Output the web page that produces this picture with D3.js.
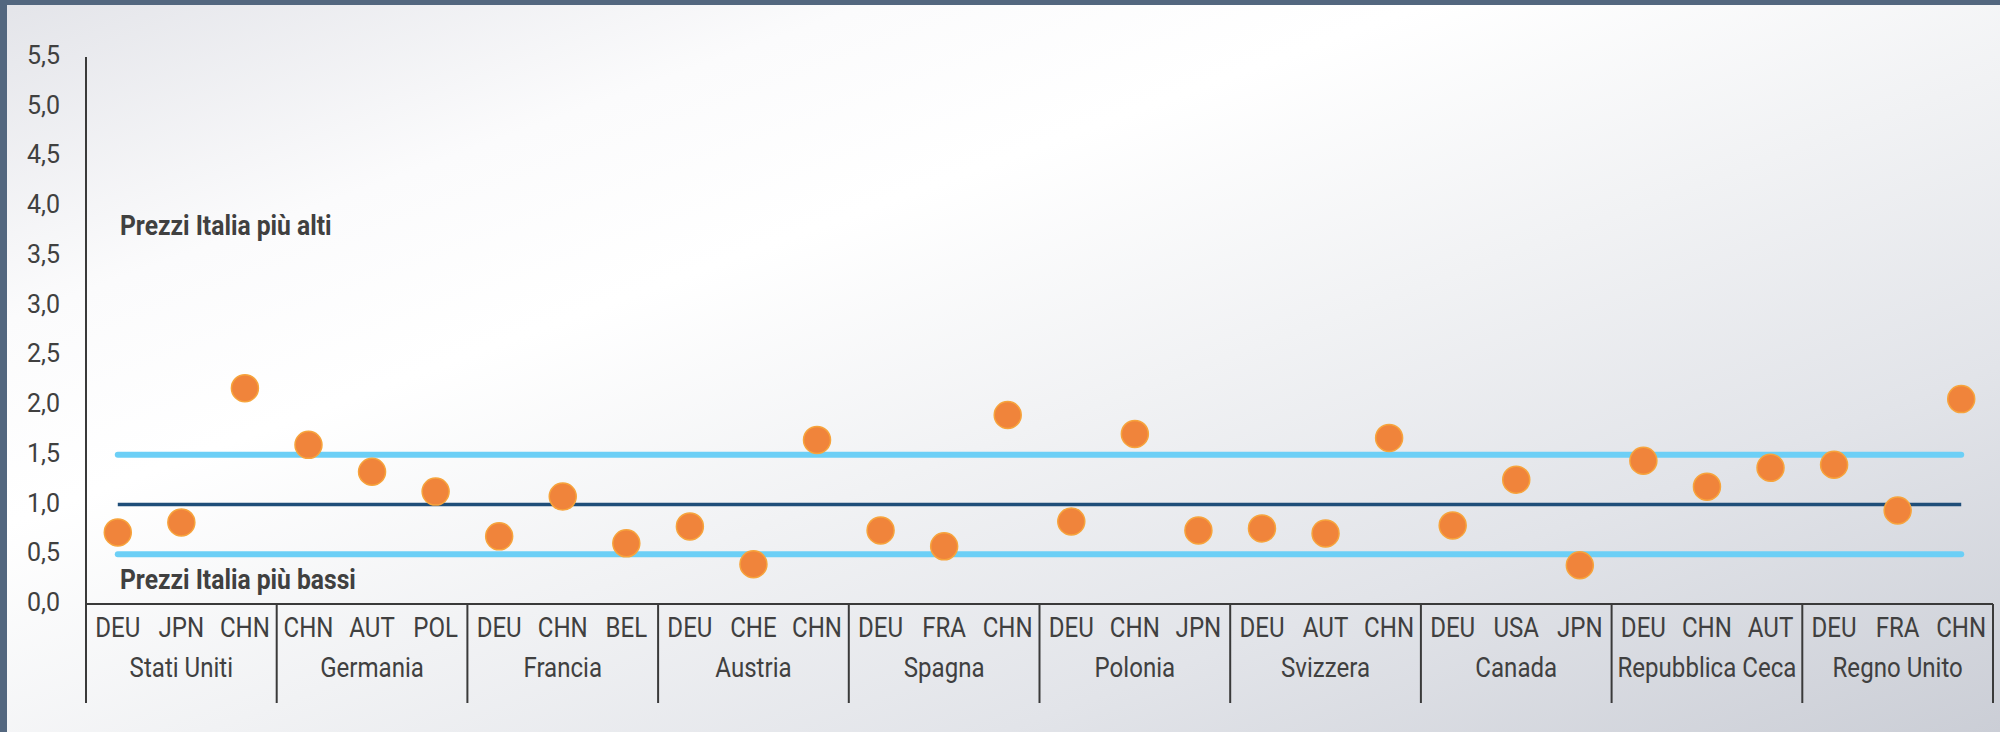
<!DOCTYPE html>
<html>
<head>
<meta charset="utf-8">
<script src="https://cdn.jsdelivr.net/npm/d3@7"></script>
<style>
  html, body { margin: 0; padding: 0; background: #ffffff; }
  svg { display: block; }
  text { font-family: Roboto, "Liberation Sans", sans-serif; fill: #404040; }
</style>
</head>
<body>
<svg id="chart" width="2000" height="732"></svg>
<script>
// ---------- data ----------
const countries = ["Stati Uniti", "Germania", "Francia", "Austria", "Spagna",
                   "Polonia", "Svizzera", "Canada", "Repubblica Ceca", "Regno Unito"];
const partners = [
  ["DEU", "JPN", "CHN"],
  ["CHN", "AUT", "POL"],
  ["DEU", "CHN", "BEL"],
  ["DEU", "CHE", "CHN"],
  ["DEU", "FRA", "CHN"],
  ["DEU", "CHN", "JPN"],
  ["DEU", "AUT", "CHN"],
  ["DEU", "USA", "JPN"],
  ["DEU", "CHN", "AUT"],
  ["DEU", "FRA", "CHN"]
];
const values = [
  [0.72, 0.82, 2.17],
  [1.60, 1.33, 1.13],
  [0.68, 1.08, 0.61],
  [0.78, 0.40, 1.65],
  [0.74, 0.58, 1.90],
  [0.83, 1.71, 0.74],
  [0.76, 0.71, 1.67],
  [0.79, 1.25, 0.39],
  [1.44, 1.18, 1.37],
  [1.40, 0.94, 2.06]
];
const refLines = [
  { value: 1.5, color: "#6ccff6", width: 6, cap: "round" },
  { value: 0.5, color: "#6ccff6", width: 6, cap: "round" },
  { value: 1.0, color: "#1f4e79", width: 3.5, cap: "butt" }
];
const yTicks = [0, 0.5, 1, 1.5, 2, 2.5, 3, 3.5, 4, 4.5, 5, 5.5];
const noteHigh = "Prezzi Italia più alti";
const noteLow = "Prezzi Italia più bassi";

// ---------- derived ----------
const items = [];
countries.forEach((c, gi) => partners[gi].forEach((p, pi) => {
  items.push({ key: gi + "|" + p + "|" + pi, group: gi, partner: p, value: values[gi][pi] });
}));

const svg = d3.select("#chart");
const W = 2000, H = 732;

// background gradient
const defs = svg.append("defs");
const grad = defs.append("linearGradient").attr("id", "bg")
  .attr("x1", 0).attr("y1", 0).attr("x2", 1).attr("y2", 1);
[[0, "#e3e4e9"], [0.22, "#fbfbfc"], [0.36, "#ffffff"], [0.55, "#f1f2f4"],
 [0.75, "#e2e4e9"], [1, "#cbced6"]].forEach(([o, c]) =>
  grad.append("stop").attr("offset", o).attr("stop-color", c));

svg.append("rect").attr("width", W).attr("height", H).attr("fill", "url(#bg)");
svg.append("rect").attr("x", 0).attr("y", 0).attr("width", W).attr("height", 5).attr("fill", "#53677f");
svg.append("rect").attr("x", 0).attr("y", 0).attr("width", 7).attr("height", H).attr("fill", "#53677f");

// scales
const x = d3.scaleBand().domain(items.map(d => d.key)).range([86, 1993]).padding(0);
const bw = x.bandwidth();
const y = d3.scaleLinear().domain([0, 5.5]).range([604, 57]);
const cx = d => x(d.key) + bw / 2;

const tableTop = y(0), tableBottom = 703;
const axisColor = "#3a3a3a";

// y axis
const yAxis = d3.axisLeft(y).tickValues(yTicks).tickSize(0).tickPadding(26)
  .tickFormat(d => d3.format(".1f")(d).replace(".", ","));
const gy = svg.append("g").attr("transform", "translate(86,0)").call(yAxis);
gy.select(".domain").remove();
gy.selectAll("text").attr("dy", "0.26em").style("font-size", "25px")
  .style("font-family", "Roboto, sans-serif").attr("fill", "#444");

svg.append("line").attr("x1", 86).attr("x2", 86).attr("y1", y(5.5)).attr("y2", tableBottom)
  .attr("stroke", axisColor).attr("stroke-width", 2);

// category table
svg.append("line").attr("x1", 86).attr("x2", 1993).attr("y1", tableTop).attr("y2", tableTop)
  .attr("stroke", axisColor).attr("stroke-width", 2);

const groupBounds = countries.map((c, gi) => {
  const its = items.filter(d => d.group === gi);
  return { name: c, x0: x(its[0].key), x1: x(its[its.length - 1].key) + bw };
});
svg.selectAll("line.sep").data(groupBounds).join("line").attr("class", "sep")
  .attr("x1", d => d.x1).attr("x2", d => d.x1)
  .attr("y1", tableTop).attr("y2", tableBottom)
  .attr("stroke", axisColor).attr("stroke-width", 2);

svg.selectAll("text.cat").data(items).join("text").attr("class", "cat")
  .attr("transform", d => `translate(${cx(d)},637) scale(0.86,1)`)
  .attr("text-anchor", "middle").style("font-size", "28px")
  .text(d => d.partner);

svg.selectAll("text.grp").data(groupBounds).join("text").attr("class", "grp")
  .attr("transform", d => `translate(${(d.x0 + d.x1) / 2},677) scale(0.86,1)`)
  .attr("text-anchor", "middle").style("font-size", "28px")
  .text(d => d.name);

// reference lines (drawn across category centres)
const first = items[0], last = items[items.length - 1];
svg.selectAll("line.ref").data(refLines).join("line").attr("class", "ref")
  .attr("x1", cx(first)).attr("x2", cx(last))
  .attr("y1", d => y(d.value)).attr("y2", d => y(d.value))
  .attr("stroke", d => d.color).attr("stroke-width", d => d.width)
  .attr("stroke-linecap", d => d.cap);

// notes
svg.append("text").attr("transform", "translate(120,235) scale(0.88,1)")
  .style("font-size", "28px").style("font-weight", "700").attr("fill", "#3a3a3a").text(noteHigh);
svg.append("text").attr("transform", "translate(120,589) scale(0.88,1)")
  .style("font-size", "28px").style("font-weight", "700").attr("fill", "#3a3a3a").text(noteLow);

// points
svg.selectAll("circle.pt").data(items).join("circle").attr("class", "pt")
  .attr("cx", cx).attr("cy", d => y(d.value)).attr("r", 13.5)
  .attr("fill", "#f0843b").attr("stroke", "#f7a43c").attr("stroke-width", 1.5);
</script>
</body>
</html>
